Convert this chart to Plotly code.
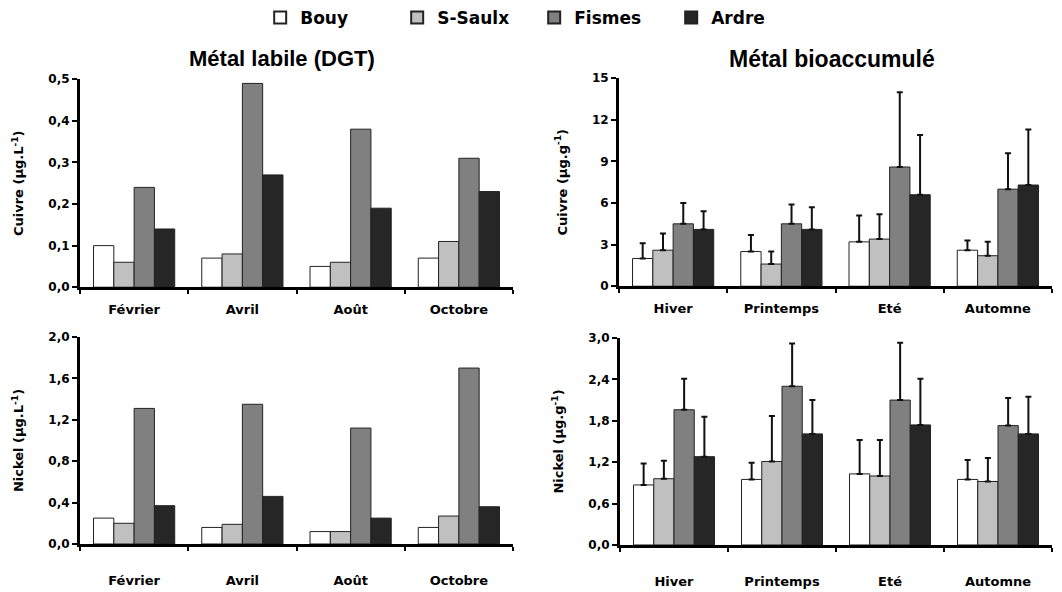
import plotly.graph_objects as go

# Sites (series) and their bar fills
sites = ["Bouy", "S-Saulx", "Fismes", "Ardre"]
site_colors = ["#ffffff", "#c0c0c0", "#808080", "#262626"]

# Sampling campaigns
months = ["Février", "Avril", "Août", "Octobre"]
seasons = ["Hiver", "Printemps", "Eté", "Automne"]

# Labile copper measured by DGT (µg/L), per site, per month
cu_dgt_bouy = [0.10, 0.07, 0.05, 0.07]
cu_dgt_ssaulx = [0.06, 0.08, 0.06, 0.11]
cu_dgt_fismes = [0.24, 0.49, 0.38, 0.31]
cu_dgt_ardre = [0.14, 0.27, 0.19, 0.23]

# Labile nickel measured by DGT (µg/L)
ni_dgt_bouy = [0.25, 0.16, 0.12, 0.16]
ni_dgt_ssaulx = [0.20, 0.19, 0.12, 0.27]
ni_dgt_fismes = [1.31, 1.35, 1.12, 1.70]
ni_dgt_ardre = [0.37, 0.46, 0.25, 0.36]

# Bioaccumulated copper (µg/g), mean and upper deviation, per season
cu_bio_bouy = [2.0, 2.5, 3.2, 2.6]
cu_bio_bouy_sd = [1.1, 1.2, 1.9, 0.7]
cu_bio_ssaulx = [2.6, 1.6, 3.4, 2.2]
cu_bio_ssaulx_sd = [1.2, 0.9, 1.8, 1.0]
cu_bio_fismes = [4.5, 4.5, 8.6, 7.0]
cu_bio_fismes_sd = [1.5, 1.4, 5.4, 2.6]
cu_bio_ardre = [4.1, 4.1, 6.6, 7.3]
cu_bio_ardre_sd = [1.3, 1.6, 4.3, 4.0]

# Bioaccumulated nickel (µg/g)
ni_bio_bouy = [0.87, 0.95, 1.03, 0.95]
ni_bio_bouy_sd = [0.31, 0.24, 0.49, 0.28]
ni_bio_ssaulx = [0.96, 1.21, 1.00, 0.92]
ni_bio_ssaulx_sd = [0.26, 0.66, 0.52, 0.34]
ni_bio_fismes = [1.96, 2.30, 2.10, 1.73]
ni_bio_fismes_sd = [0.45, 0.62, 0.83, 0.40]
ni_bio_ardre = [1.28, 1.61, 1.74, 1.61]
ni_bio_ardre_sd = [0.58, 0.49, 0.67, 0.54]

W, H = 1062, 592

fig = go.Figure()


def add_panel(xref, yref, cats, series, errors=None, legend=False):
    for i, name in enumerate(sites):
        kw = {}
        if errors is not None:
            kw["error_y"] = dict(
                type="data", symmetric=False, array=errors[i],
                arrayminus=[0] * len(cats), color="#111111",
                thickness=2, width=3,
            )
        fig.add_trace(go.Bar(
            x=cats, y=series[i], name=name, legendgroup=name,
            showlegend=legend, xaxis=xref, yaxis=yref,
            marker=dict(color=site_colors[i], line=dict(color="#222222", width=1)),
            **kw,
        ))


add_panel("x", "y", months, [cu_dgt_bouy, cu_dgt_ssaulx, cu_dgt_fismes, cu_dgt_ardre], legend=True)
add_panel("x2", "y2", seasons, [cu_bio_bouy, cu_bio_ssaulx, cu_bio_fismes, cu_bio_ardre],
          [cu_bio_bouy_sd, cu_bio_ssaulx_sd, cu_bio_fismes_sd, cu_bio_ardre_sd])
add_panel("x3", "y3", months, [ni_dgt_bouy, ni_dgt_ssaulx, ni_dgt_fismes, ni_dgt_ardre])
add_panel("x4", "y4", seasons, [ni_bio_bouy, ni_bio_ssaulx, ni_bio_fismes, ni_bio_ardre],
          [ni_bio_bouy_sd, ni_bio_ssaulx_sd, ni_bio_fismes_sd, ni_bio_ardre_sd])

tick_font = dict(family="DejaVu Sans", size=12, color="#000000", weight="bold")
title_font = dict(family="DejaVu Sans", size=13, color="#000000", weight="bold")


def px_x(a, b):
    return [a / W, b / W]


def px_y(bottom, top):
    return [(H - bottom) / H, (H - top) / H]


def xaxis(domain, anchor, standoff):
    return dict(
        domain=domain, anchor=anchor, type="category",
        showline=True, linecolor="#000000", linewidth=3,
        ticks="outside", tickson="boundaries", ticklen=4, tickwidth=2,
        tickcolor="#000000", showgrid=False, zeroline=False,
        tickfont=dict(family="DejaVu Sans", size=13, color="#000000", weight="bold"),
        ticklabelstandoff=standoff, fixedrange=True,
    )


def yaxis(domain, anchor, rng, dtick, fmt, title):
    return dict(
        domain=domain, anchor=anchor, range=rng, dtick=dtick, tick0=0,
        tickformat=fmt, showline=True, linecolor="#000000", linewidth=3,
        ticks="outside", ticklen=5, tickwidth=2, tickcolor="#000000",
        showgrid=False, zeroline=False, tickfont=tick_font,
        title=dict(text=title, font=title_font, standoff=22),
        fixedrange=True,
    )


fig.update_layout(
    width=W, height=H,
    margin=dict(l=0, r=0, t=0, b=0),
    paper_bgcolor="#ffffff", plot_bgcolor="#ffffff",
    separators=", ",
    barmode="group", bargap=0.25, bargroupgap=0,
    font=dict(family="DejaVu Sans", color="#000000"),
    xaxis=xaxis(px_x(80, 513), "y", 8),
    yaxis=yaxis(px_y(287, 74), "x", [0, 0.5], 0.1, ".1f", "Cuivre (µg.L<sup>-1</sup>)"),
    xaxis2=xaxis(px_x(619, 1052), "y2", 8),
    yaxis2=yaxis(px_y(286, 73), "x2", [0, 15], 3, "d", "Cuivre (µg.g<sup>-1</sup>)"),
    xaxis3=xaxis(px_x(80, 513), "y3", 22),
    yaxis3=yaxis(px_y(550, 338), "x3", [0, 2.0], 0.4, ".1f", "Nickel (µg.L<sup>-1</sup>)"),
    xaxis4=xaxis(px_x(620, 1052), "y4", 22),
    yaxis4=yaxis(px_y(551, 339), "x4", [0, 3.0], 0.6, ".1f", "Nickel (µg.g<sup>-1</sup>)"),
    legend=dict(
        orientation="h", x=0.503, xanchor="center", y=1.012, yanchor="top",
        font=dict(family="DejaVu Sans", size=17, color="#000000", weight="bold"),
        itemsizing="constant", bgcolor="rgba(0,0,0,0)",
        entrywidth=92, entrywidthmode="pixels",
    ),
    annotations=[
        dict(text="Métal labile (DGT)", x=282 / W, y=(H - 53) / H, xref="paper", yref="paper",
             showarrow=False, xanchor="center", yanchor="middle",
             font=dict(family="Liberation Sans", size=22, color="#000000", weight="bold")),
        dict(text="Métal bioaccumulé", x=832 / W, y=(H - 53) / H, xref="paper", yref="paper",
             showarrow=False, xanchor="center", yanchor="middle",
             font=dict(family="Liberation Sans", size=23, color="#000000", weight="bold")),
    ],
)

fig.write_html("out.html")
